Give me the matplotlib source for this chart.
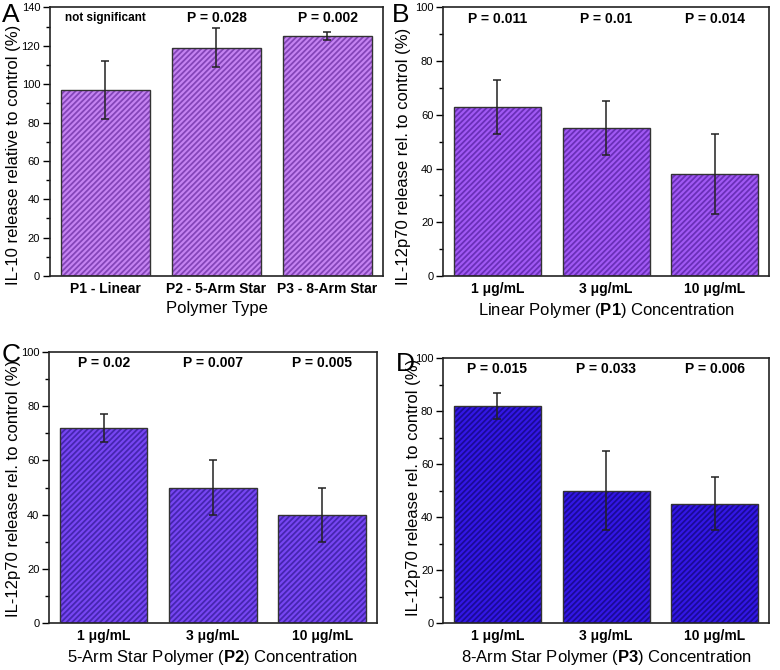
#Bar charts of cytokine release for the three polymer types.
import matplotlib.pyplot as plt

plt.rcParams['font.family'] = ['Liberation Sans', 'DejaVu Sans']
plt.rcParams['mathtext.fontset'] = 'custom'
plt.rcParams['mathtext.rm'] = 'Liberation Sans'
plt.rcParams['mathtext.bf'] = 'Liberation Sans:bold'
plt.rcParams['hatch.linewidth'] = 1.3

#Panel A values (IL-10).
a_labels = ['P1 - Linear', 'P2 - 5-Arm Star', 'P3 - 8-Arm Star']
a_values = [97, 119, 125]
a_errors = [15, 10, 2]
a_pvalues = ['not significant', 'P = 0.028', 'P = 0.002']

#Concentration labels shared by panels B, C, D.
conc_labels = ['1 \u03bcg/mL', '3 \u03bcg/mL', '10 \u03bcg/mL']

#Panel B values (P1, IL-12p70).
b_values = [63, 55, 38]
b_errors = [10, 10, 15]
b_pvalues = ['P = 0.011', 'P = 0.01', 'P = 0.014']

#Panel C values (P2, IL-12p70).
c_values = [72, 50, 40]
c_errors = [5, 10, 10]
c_pvalues = ['P = 0.02', 'P = 0.007', 'P = 0.005']

#Panel D values (P3, IL-12p70).
d_values = [82, 50, 45]
d_errors = [5, 15, 10]
d_pvalues = ['P = 0.015', 'P = 0.033', 'P = 0.006']

fig = plt.figure(figsize=(7.8, 6.7), dpi=100)


def panel(rect, letter, letter_pos, labels, values, errors, pvalues, ymax,
          face, hatch_col, ylabel, xlabel, ylabel_pos, ptext_y):
    ax = fig.add_axes(rect)
    x = list(range(len(values)))
    ax.bar(x, values, width=0.8, color=face, edgecolor=hatch_col,
           hatch='//////', linewidth=0, zorder=2)
    ax.bar(x, values, width=0.8, fill=False, edgecolor='#333333',
           linewidth=1.0, zorder=3)
    ax.errorbar(x, values, yerr=errors, fmt='none', ecolor='#222222',
                elinewidth=1.1, capsize=3, capthick=1.1, zorder=4)
    for xi, p in zip(x, pvalues):
        size = 8.5 if p == 'not significant' else 10
        ax.text(xi, ptext_y, p, ha='center', va='center',
                fontsize=size, fontweight='bold')
    ax.set_xlim(-0.5, len(values) - 0.5)
    ax.set_ylim(0, ymax)
    ax.set_yticks(range(0, ymax + 1, 20))
    ax.set_yticks(range(10, ymax, 20), minor=True)
    ax.set_xticks(x)
    ax.set_xticklabels(labels, fontsize=10, fontweight='bold')
    ax.tick_params(axis='x', length=0, pad=4)
    ax.tick_params(axis='y', which='major', length=5, width=1,
                   labelsize=8, pad=2)
    ax.tick_params(axis='y', which='minor', length=3, width=1)
    for s in ax.spines.values():
        s.set_linewidth(1.2)
        s.set_color('#222222')
    ax.set_ylabel(ylabel, fontsize=12)
    ax.yaxis.set_label_coords(*ylabel_pos)
    ax.set_xlabel(xlabel, fontsize=12, labelpad=4)
    fig.text(letter_pos[0], letter_pos[1], letter, fontsize=19,
             va='baseline', ha='left')
    return ax


il12 = 'IL-12p70 release rel. to control (%)'

panel([0.064, 0.588, 0.427, 0.401], 'A', (0.002, 0.967),
      a_labels, a_values, a_errors, a_pvalues, 140,
      '#c583f2', '#8445b8',
      'IL-10 release relative to control (%)', 'Polymer Type',
      (-0.087, 0.45), 134.5)

panel([0.568, 0.588, 0.418, 0.401], 'B', (0.502, 0.967),
      conc_labels, b_values, b_errors, b_pvalues, 100,
      '#a159f4', '#6a2fb8',
      il12, r'Linear Polymer ($\mathbf{P1}$) Concentration',
      (-0.098, 0.446), 95.8)

panel([0.063, 0.070, 0.420, 0.4045], 'C', (0.002, 0.459),
      conc_labels, c_values, c_errors, c_pvalues, 100,
      '#7746f3', '#4626b0',
      il12, r'5-Arm Star Polymer ($\mathbf{P2}$) Concentration',
      (-0.085, 0.498), 95.8)

panel([0.568, 0.070, 0.418, 0.3955], 'D', (0.507, 0.447),
      conc_labels, d_values, d_errors, d_pvalues, 100,
      '#3317e6', '#1b0a98',
      il12, r'8-Arm Star Polymer ($\mathbf{P3}$) Concentration',
      (-0.067, 0.513), 95.8)

plt.savefig('out.png', dpi=100)
